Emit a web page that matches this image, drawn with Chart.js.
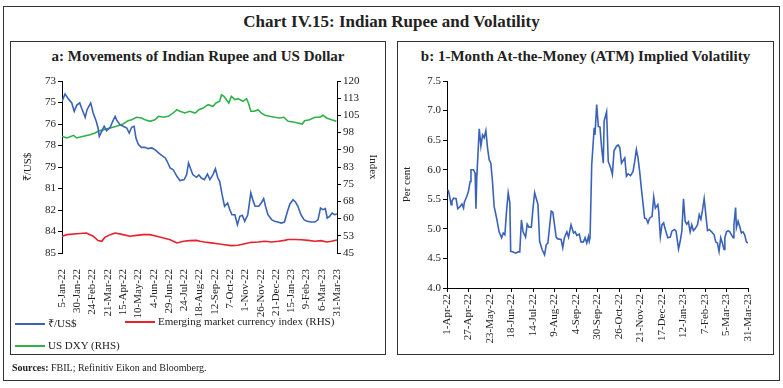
<!DOCTYPE html>
<html>
<head>
<meta charset="utf-8">
<script src="https://cdn.jsdelivr.net/npm/chart.js@4.4.1/dist/chart.umd.min.js"></script>
<style>
  body { margin: 0; background: #fff; font-family: 'Liberation Serif', serif; color: #222; }
  #page { position: relative; width: 783px; height: 388px; overflow: hidden; background: #fff; }
  .frame { position: absolute; border: 1px solid #333; box-sizing: border-box; }
  .panel { position: absolute; border: 1.5px solid #333; box-sizing: border-box; }
  .title { position: absolute; left: 0; width: 783px; top: 12px; text-align: center; font-size: 17px; font-weight: bold; }
  .ptitle { position: absolute; text-align: center; font-size: 15px; font-weight: bold; }
  canvas { position: absolute; }
  .lg { position: absolute; font-size: 11px; white-space: nowrap; }
  .lg i { display: inline-block; width: 30px; height: 2px; vertical-align: middle; margin-right: 3px; }
  .src { position: absolute; left: 12px; top: 362px; font-size: 10px; }
</style>
</head>
<body>
<div id="page">
  <div class="frame" style="left:3px;top:6px;width:777px;height:375px"></div>
  <div class="title">Chart IV.15: Indian Rupee and Volatility</div>

  <div class="panel" style="left:10px;top:41px;width:376px;height:314px"></div>
  <div class="ptitle" style="left:10px;top:48px;width:376px">a: Movements of Indian Rupee and US Dollar</div>
  <canvas id="chartA" width="376" height="314" style="left:10px;top:41px"></canvas>
  <div class="lg" style="left:15px;top:315px"><i style="background:#3a63b8"></i>₹/US$</div>
  <div class="lg" style="left:125px;top:315px"><i style="background:#e8212b"></i>Emerging market currency index (RHS)</div>
  <div class="lg" style="left:15px;top:339px"><i style="background:#2db34a"></i>US DXY (RHS)</div>

  <div class="panel" style="left:397px;top:41px;width:377px;height:314px"></div>
  <div class="ptitle" style="left:397px;top:48px;width:377px">b: 1-Month At-the-Money (ATM) Implied Volatility</div>
  <canvas id="chartB" width="377" height="314" style="left:397px;top:41px"></canvas>

  <div class="src"><b>Sources:</b> FBIL; Refinitiv Eikon and Bloomberg.</div>
</div>

<script>
// days counted from 5-Jan-22 (panel a) and from 1-Apr-22 (panel b)
const xLabelsA = ['5-Jan-22', '30-Jan-22', '24-Feb-22', '21-Mar-22', '15-Apr-22', '10-May-22', '4-Jun-22',
  '29-Jun-22', '24-Jul-22', '18-Aug-22', '12-Sep-22', '7-Oct-22', '1-Nov-22', '26-Nov-22', '21-Dec-22',
  '15-Jan-23', '9-Feb-23', '6-Mar-23', '31-Mar-23']
const xLabelsB = ['1-Apr-22', '27-Apr-22', '23-May-22', '18-Jun-22', '14-Jul-22', '9-Aug-22', '4-Sep-22',
  '30-Sep-22', '26-Oct-22', '21-Nov-22', '17-Dec-22', '12-Jan-23', '7-Feb-23', '5-Mar-23', '31-Mar-23']

const rupeeDays = [0, 5, 10, 16, 20, 24, 29, 32, 38, 41, 47, 51, 56, 59, 61, 65, 69, 73, 79, 83, 87, 90, 95, 100,
  106, 110, 114, 118, 121, 125, 130, 136, 141, 147, 152, 158, 163, 169, 172, 177, 182, 188, 193, 200, 204, 207,
  211, 214, 220, 224, 228, 233, 238, 242, 247, 251, 255, 258, 262, 266, 271, 274, 278, 283, 287, 291, 295, 299,
  304, 309, 313, 316, 322, 326, 330, 333, 337, 343, 348, 353, 359, 364, 369, 373, 378, 382, 386, 391, 396, 401,
  408, 414, 419, 423, 427, 431, 434, 438, 442, 446, 450]
const rupee = [74.42, 73.91, 74.23, 74.53, 75.12, 74.70, 74.53, 74.88, 75.53, 75.00, 74.53, 75.23, 75.81, 76.28,
  76.86, 76.51, 76.16, 76.47, 76.23, 75.81, 75.47, 75.77, 76.05, 76.16, 76.28, 76.63, 76.23, 76.16, 76.98, 77.44,
  77.63, 77.63, 77.72, 77.67, 77.79, 78.02, 78.19, 78.37, 78.60, 79.07, 79.19, 79.65, 79.95, 79.88, 79.53, 78.72,
  79.19, 79.53, 79.72, 79.55, 79.77, 79.88, 79.49, 79.88, 79.53, 79.12, 79.77, 80.00, 80.93, 81.74, 81.51, 81.91,
  82.33, 82.33, 83.02, 82.44, 82.37, 82.79, 82.33, 80.81, 81.40, 81.74, 81.74, 81.51, 81.21, 81.74, 82.33, 82.67,
  82.79, 82.84, 82.91, 82.84, 82.09, 81.58, 81.28, 81.44, 81.74, 82.33, 82.67, 82.79, 82.84, 82.84, 82.67, 81.86,
  81.98, 81.91, 82.56, 82.44, 82.21, 82.33, 82.28]

const dxyDays = [0, 8, 19, 24, 35, 46, 54, 59, 68, 79, 89, 100, 108, 114, 122, 130, 136, 144, 152, 158, 166, 174,
  182, 188, 193, 201, 209, 218, 224, 231, 239, 247, 252, 258, 261, 265, 269, 273, 277, 283, 288, 296, 302, 305,
  309, 315, 321, 326, 332, 340, 348, 356, 363, 370, 378, 386, 393, 397, 405, 414, 422, 427, 433, 441, 449]
const dxy = [95.9, 95.15, 96.3, 95.15, 95.9, 96.6, 97.3, 98.05, 98.8, 99.5, 100.25, 101.25, 102.7, 103.1, 104.2,
  103.9, 103.1, 102.4, 103.1, 104.6, 104.2, 104.6, 106.05, 107.5, 106.8, 106.05, 106.8, 106.05, 107.5, 108.2,
  109.7, 109.0, 110.4, 111.15, 114.0, 113.3, 111.85, 110.4, 113.3, 111.85, 112.3, 111.15, 112.3, 110.4, 106.8,
  106.8, 107.5, 106.05, 105.05, 104.6, 104.2, 103.9, 104.2, 102.4, 102.1, 101.7, 101.25, 102.7, 103.1, 104.2,
  104.2, 105.05, 103.9, 103.1, 102.4]

const emDays = [0, 8, 24, 40, 51, 59, 65, 70, 79, 87, 100, 111, 122, 133, 144, 155, 166, 177, 188, 199, 209, 220,
  226, 233, 244, 255, 266, 277, 288, 299, 310, 321, 332, 343, 354, 364, 370, 381, 392, 403, 414, 424, 433, 441, 450]
const em = [52.3, 53.0, 53.4, 53.7, 52.3, 50.4, 50.1, 51.8, 53.0, 53.7, 53.0, 52.3, 52.7, 53.0, 53.0, 52.3, 51.5,
  50.8, 49.4, 50.1, 50.4, 50.5, 50.1, 49.8, 49.4, 49.05, 48.6, 48.2, 48.35, 49.05, 49.65, 49.8, 50.1, 49.8, 50.1,
  50.5, 50.9, 50.9, 50.8, 50.5, 50.1, 50.4, 49.8, 50.1, 50.65]

const volDays = [1, 2, 5, 6, 8, 11, 13, 16, 18, 20, 21, 24, 26, 28, 29, 32, 34, 35, 36, 38, 39, 41, 43, 45, 47, 49,
  51, 53, 55, 57, 60, 63, 66, 68, 70, 72, 74, 76, 77, 80, 83, 86, 88, 90, 92, 95, 97, 99, 102, 104, 106, 110, 112,
  115, 118, 120, 122, 126, 128, 132, 134, 138, 140, 142, 145, 147, 150, 153, 155, 157, 160, 162, 165, 167, 169,
  171, 172, 173, 175, 178, 179, 181, 183, 185, 187, 189, 190, 193, 195, 198, 200, 202, 205, 207, 209, 211, 215,
  217, 219, 222, 225, 227, 229, 231, 233, 235, 239, 241, 243, 245, 248, 250, 252, 255, 256, 258, 260, 262, 264,
  267, 270, 272, 275, 277, 280, 282, 284, 286, 288, 290, 292, 294, 296, 298, 300, 303, 305, 307, 309, 311, 313,
  315, 317, 320, 323, 325, 327, 329, 331, 333, 335, 336, 338, 340, 342, 344, 346, 347, 349, 350, 352, 354, 356,
  358, 360, 362, 364]
const vol = [5.66, 5.63, 5.41, 5.47, 5.52, 5.51, 5.34, 5.38, 5.42, 5.35, 5.45, 5.55, 5.64, 5.80, 6.00, 6.00, 5.94,
  5.34, 5.86, 6.42, 6.69, 6.40, 6.59, 6.54, 6.66, 6.37, 6.17, 6.11, 5.80, 5.38, 5.18, 4.95, 4.85, 4.93, 4.90, 5.30,
  5.61, 5.44, 4.62, 4.61, 4.59, 4.61, 4.61, 5.15, 4.95, 4.86, 5.08, 5.03, 5.03, 5.35, 5.61, 5.41, 4.79, 4.65, 4.56,
  4.73, 4.76, 5.30, 5.28, 4.86, 4.83, 4.82, 4.68, 4.85, 4.95, 4.86, 5.07, 4.93, 4.95, 4.89, 4.91, 4.78, 4.78, 4.85,
  4.76, 4.87, 4.79, 4.85, 6.08, 6.71, 6.59, 7.10, 6.73, 6.72, 6.37, 6.11, 6.82, 6.98, 6.14, 6.03, 5.92, 6.32, 6.40,
  6.42, 6.37, 6.11, 6.20, 5.89, 5.93, 5.90, 5.97, 6.14, 6.34, 6.20, 5.97, 5.69, 5.18, 5.17, 5.10, 5.18, 5.21, 5.54,
  5.35, 5.41, 5.30, 4.87, 5.07, 5.10, 4.99, 4.85, 4.86, 4.96, 4.99, 4.96, 4.66, 4.79, 4.96, 5.51, 5.13, 5.08, 5.12,
  4.95, 5.07, 4.97, 5.00, 5.07, 5.24, 5.16, 5.32, 5.51, 5.24, 4.97, 4.99, 4.95, 4.90, 4.78, 4.76, 4.62, 4.85, 4.76,
  4.65, 4.85, 4.95, 4.97, 4.95, 4.90, 4.85, 5.07, 5.36, 5.02, 5.13, 5.04, 4.93, 4.95, 4.90, 4.78, 4.76]

Chart.defaults.font.family = "'Liberation Serif', serif"
Chart.defaults.font.size = 11
Chart.defaults.color = '#222'

function toPoints(days, vals) {
  return days.map((d, i) => ({ x: d, y: vals[i] }))
}

function lineSet(label, days, vals, color, axis) {
  return {
    label,
    data: toPoints(days, vals),
    borderColor: color,
    backgroundColor: color,
    borderWidth: 1.6,
    pointRadius: 0,
    tension: 0,
    yAxisID: axis
  }
}

// fixed axis widths so both plots sit where they do in the original
function fixWidth(w) {
  return (scale) => { scale.width = w }
}
function fixHeight(h) {
  return (scale) => { scale.height = h }
}

const axisGrid = { drawOnChartArea: false, drawTicks: true, tickLength: 4, color: '#000' }
const axisTitle = (text) => ({ display: true, text, padding: { top: 0, bottom: 4 }, font: { size: 11 } })

new Chart(document.getElementById('chartA'), {
  type: 'line',
  data: {
    datasets: [
      lineSet('₹/US$', rupeeDays, rupee, '#3a63b8', 'yL'),
      lineSet('Emerging market currency index (RHS)', emDays, em, '#e8212b', 'yR'),
      lineSet('US DXY (RHS)', dxyDays, dxy, '#2db34a', 'yR')
    ]
  },
  options: {
    responsive: false,
    animation: false,
    layout: { padding: { top: 40, left: 12, right: 7, bottom: 0 } },
    plugins: { legend: { display: false }, tooltip: { enabled: false } },
    scales: {
      x: {
        type: 'linear',
        min: 0,
        max: 450,
        grid: { display: false },
        border: { display: false },
        afterFit: fixHeight(102),
        ticks: {
          stepSize: 25,
          autoSkip: false,
          minRotation: 90,
          maxRotation: 90,
          padding: 8,
          callback: (v) => xLabelsA[Math.round(v / 25)]
        }
      },
      yL: {
        position: 'left',
        reverse: true,
        min: 73,
        max: 85,
        grid: axisGrid,
        border: { display: true, color: '#000' },
        title: axisTitle('₹/US$'),
        afterFit: fixWidth(40),
        ticks: { stepSize: 1.5, padding: 2, callback: (v) => Math.round(v) }
      },
      yR: {
        position: 'right',
        min: 45,
        max: 120,
        grid: axisGrid,
        border: { display: true, color: '#000' },
        title: axisTitle('Index'),
        afterFit: fixWidth(42),
        ticks: { stepSize: 7.5, padding: 2, callback: (v) => Math.round(v) }
      }
    }
  }
})

new Chart(document.getElementById('chartB'), {
  type: 'line',
  data: {
    datasets: [lineSet('1-Month ATM implied volatility', volDays, vol, '#3a63b8', 'y')]
  },
  options: {
    responsive: false,
    animation: false,
    layout: { padding: { top: 40, left: 4, right: 26, bottom: 0 } },
    plugins: { legend: { display: false }, tooltip: { enabled: false } },
    scales: {
      x: {
        type: 'linear',
        min: 0,
        max: 364,
        grid: { drawOnChartArea: false, drawTicks: true, tickLength: 4, color: '#000' },
        border: { display: true, color: '#000' },
        afterFit: fixHeight(67),
        ticks: {
          stepSize: 26,
          autoSkip: false,
          minRotation: 90,
          maxRotation: 90,
          padding: 2,
          callback: (v) => xLabelsB[Math.round(v / 26)]
        }
      },
      y: {
        min: 4,
        max: 7.5,
        grid: axisGrid,
        border: { display: true, color: '#000' },
        title: axisTitle('Per cent'),
        afterFit: fixWidth(46),
        ticks: { stepSize: 0.5, padding: 2, callback: (v) => v.toFixed(1) }
      }
    }
  }
})
</script>
</body>
</html>
